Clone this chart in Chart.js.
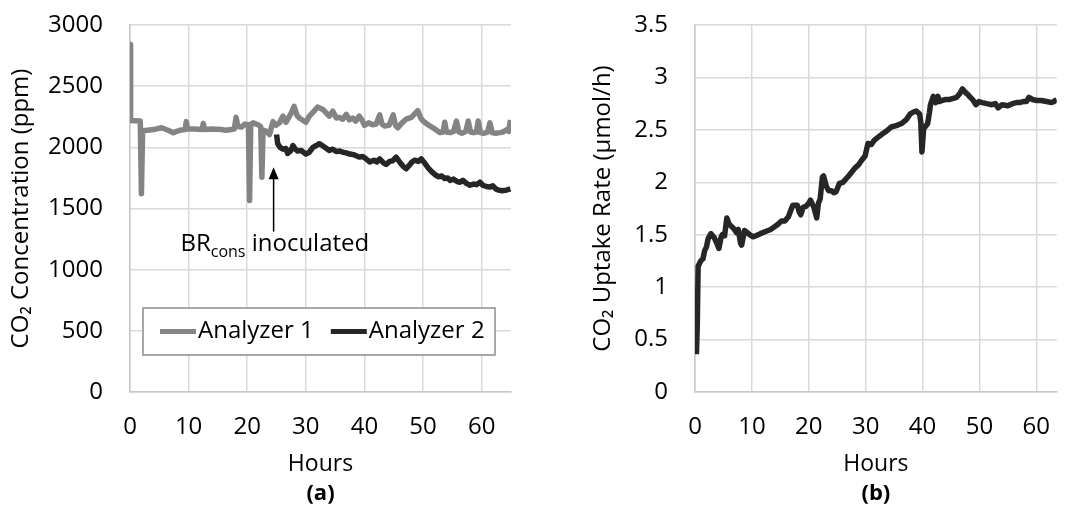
<!DOCTYPE html>
<html>
<head>
<meta charset="utf-8">
<script src="https://cdn.jsdelivr.net/npm/chart.js@4"></script>
<style>
  html, body { margin: 0; padding: 0; background: #fff; }
  .panel { position: absolute; top: 0; height: 506px; }
  #panelA { left: 0; width: 535px; }
  #panelB { left: 535px; width: 536px; }
</style>
</head>
<body>
<div class="panel" id="panelA"><canvas id="chartA"></canvas></div>
<div class="panel" id="panelB"><canvas id="chartB"></canvas></div>
<script>
// (a) CO2 concentration, Analyzer 1
const hoursA1 = [0, 0.1, 1.75, 1.95, 2.15, 3.0, 4.0, 5.4, 6.5, 7.4, 8.5, 9.4, 9.6, 9.8, 11, 12.3, 12.5, 12.7, 14, 15.5,
  16.4, 17.8, 18.1, 18.4, 19, 19.6, 20.2, 20.4, 20.6, 21, 21.8, 22.3, 22.5, 22.7, 23.3, 23.8, 24.4, 24.9, 25.5, 26.1,
  26.6, 27.5, 28, 28.5, 28.9, 30, 30.6, 31.2, 32, 32.9, 33.5, 34, 34.6, 35.2, 35.7, 36.3, 36.9, 37.4, 38, 38.5,
  39.1, 39.6, 40, 40.7, 41.4, 42, 42.6, 43, 43.4, 44.2, 44.9, 45.3, 45.7, 46.4, 47.1, 48, 49.1, 49.6, 50, 50.8,
  51.7, 52.9, 53.4, 53.7, 54, 54.6, 55.2, 55.7, 56.1, 56.6, 57.3, 57.7, 58.1, 58.6, 59.1, 59.4, 59.8, 60.3, 61, 61.4,
  61.8, 62.4, 63.1, 63.6, 64.3, 64.6, 64.9];
const co2A1 = [2840, 2220, 2215, 1620, 2135, 2140, 2145, 2160, 2140, 2120, 2140, 2145, 2210, 2150, 2150, 2145, 2195, 2145, 2150, 2145,
  2140, 2150, 2245, 2170, 2165, 2190, 2185, 1565, 2190, 2200, 2185, 2170, 1755, 2140, 2130, 2105, 2210, 2180, 2200, 2255,
  2205, 2280, 2335, 2260, 2240, 2205, 2255, 2285, 2330, 2310, 2280, 2255, 2295, 2240, 2245, 2230, 2270, 2225, 2240, 2215,
  2255, 2220, 2180, 2200, 2185, 2190, 2265, 2190, 2175, 2180, 2265, 2180, 2160, 2200, 2230, 2245, 2300, 2240, 2215, 2185,
  2160, 2120, 2125, 2205, 2125, 2120, 2130, 2215, 2125, 2115, 2130, 2215, 2125, 2120, 2125, 2215, 2120, 2115, 2125, 2200,
  2120, 2115, 2120, 2125, 2145, 2130, 2225];

// (a) CO2 concentration, Analyzer 2
const hoursA2 = [25.0, 25.2, 25.6, 26.1, 26.6, 26.9, 27.4, 27.8, 28.2, 28.6, 29.2, 30.0, 30.6, 31.2, 31.8, 32.3, 32.8, 33.4, 34, 34.6,
  35.2, 35.8, 36.3, 36.9, 37.5, 38.2, 39.1, 39.7, 40.3, 40.9, 41.6, 42.1, 42.6, 43.2, 43.7, 44.3, 44.8, 45.4, 46, 46.6,
  47.1, 47.6, 48.1, 48.6, 49.2, 49.7, 50.3, 50.9, 51.5, 52.1, 52.6, 53.2, 53.7, 54.2, 54.6, 55.2, 55.8, 56.3, 56.8, 57.4,
  58, 58.6, 59.1, 59.7, 60.2, 60.8, 61.4, 61.9, 62.4, 62.9, 63.5, 64.2, 64.9];
const co2A2 = [2105, 2030, 2000, 1985, 1990, 1950, 1970, 2015, 1985, 1970, 1975, 1945, 1960, 2000, 2015, 2030, 2015, 1995, 1975, 1985,
  1965, 1970, 1960, 1955, 1945, 1940, 1920, 1925, 1905, 1880, 1895, 1880, 1905, 1875, 1860, 1885, 1890, 1920, 1880, 1845,
  1825, 1850, 1880, 1895, 1885, 1905, 1870, 1830, 1800, 1775, 1760, 1765, 1745, 1750, 1730, 1740, 1720, 1715, 1730, 1705,
  1690, 1700, 1695, 1715, 1690, 1680, 1675, 1685, 1660, 1650, 1645, 1650, 1660];

// (b) CO2 uptake rate
const hoursB = [0.25, 0.4, 0.55, 1.0, 1.4, 1.7, 2.0, 2.3, 2.8, 3.4, 3.9, 4.2, 4.6, 4.8, 5.2, 5.6, 6.0, 6.2, 6.8, 7.3,
  7.6, 8.0, 8.2, 8.7, 9.2, 9.6, 10.2, 10.7, 11.5, 12.4, 13.3, 14.1, 14.6, 15.2, 15.8, 16.4, 16.9, 17.2, 18.0, 18.3,
  18.6, 19.0, 19.5, 20.0, 20.3, 20.9, 21.4, 21.7, 22.0, 22.4, 22.6, 23.1, 23.5, 24.0, 24.4, 24.8, 25.4, 26.0, 26.5, 27.0,
  27.6, 28.2, 28.8, 29.3, 29.9, 30.4, 31.0, 31.5, 32.2, 32.9, 33.7, 34.6, 35.4, 36.3, 37.2, 37.8, 38.4, 38.9, 39.5, 39.7,
  39.9, 40.2, 40.9, 41.2, 41.4, 41.9, 42.3, 42.7, 43.0, 43.4, 44.1, 44.8, 45.4, 46.0, 46.6, 47.0, 47.5, 47.9, 48.4, 48.8,
  49.4, 49.9, 50.5, 51.3, 52.2, 52.8, 53.3, 54.0, 55.0, 55.8, 56.5, 57.0, 57.7, 58.3, 58.7, 59.3, 60.1, 60.9, 61.8, 62.7,
  63.1, 63.6];
const uptakeB = [0.36, 0.64, 1.2, 1.25, 1.27, 1.35, 1.38, 1.46, 1.51, 1.47, 1.41, 1.37, 1.48, 1.5, 1.49, 1.66, 1.6, 1.59, 1.56, 1.52,
  1.55, 1.42, 1.4, 1.54, 1.52, 1.5, 1.48, 1.49, 1.51, 1.53, 1.55, 1.58, 1.6, 1.63, 1.63, 1.67, 1.74, 1.78, 1.78, 1.72,
  1.69, 1.76, 1.77, 1.8, 1.83, 1.76, 1.66, 1.8, 1.84, 2.05, 2.06, 1.96, 1.92, 1.92, 1.9, 1.91, 1.99, 2.0, 2.03, 2.06,
  2.1, 2.14, 2.17, 2.21, 2.25, 2.37, 2.36, 2.4, 2.43, 2.46, 2.49, 2.53, 2.54, 2.56, 2.6, 2.65, 2.67, 2.68, 2.65, 2.57,
  2.29, 2.51, 2.56, 2.66, 2.74, 2.82, 2.76, 2.82, 2.77, 2.78, 2.79, 2.79, 2.8, 2.81, 2.85, 2.89, 2.86, 2.84, 2.81, 2.79,
  2.74, 2.77, 2.76, 2.75, 2.74, 2.75, 2.71, 2.74, 2.73, 2.75, 2.76, 2.76, 2.77, 2.77, 2.81, 2.79, 2.78, 2.78, 2.77, 2.76,
  2.77, 2.79];

const seriesNames = ['Analyzer 1', 'Analyzer 2'];
const seriesColors = ['#848484', '#262626'];
const xTickValues = [0, 10, 20, 30, 40, 50, 60];
const inoculationHour = 24.5;
const FONT = "'Open Sans', sans-serif";

Chart.defaults.font.family = FONT;
Chart.defaults.font.size = 24;
Chart.defaults.color = '#000';

function toPoints(xs, ys) {
  return xs.map((x, i) => ({ x: x, y: ys[i] }));
}

// draws the panel letter, and for (a) the legend box and the inoculation arrow
const panelExtras = {
  id: 'panelExtras',
  afterDraw(chart, args, opts) {
    const { ctx, chartArea, scales } = chart;
    ctx.save();
    ctx.fillStyle = '#000';
    ctx.font = 'bold 22px ' + FONT;
    ctx.textAlign = 'center';
    ctx.textBaseline = 'middle';
    ctx.fillText(opts.letter, (chartArea.left + chartArea.right) / 2, 494);

    if (opts.arrow) {
      const ax = scales.x.getPixelForValue(opts.arrow.x);
      const top = scales.y.getPixelForValue(opts.arrow.from);
      const bottom = scales.y.getPixelForValue(opts.arrow.to);
      ctx.strokeStyle = '#000';
      ctx.lineWidth = 1.5;
      ctx.beginPath();
      ctx.moveTo(ax, bottom);
      ctx.lineTo(ax, top + 8);
      ctx.stroke();
      ctx.beginPath();
      ctx.moveTo(ax, top);
      ctx.lineTo(ax - 5, top + 12);
      ctx.lineTo(ax + 5, top + 12);
      ctx.closePath();
      ctx.fill();

      // BR_cons inoculated
      let tx = scales.x.getPixelForValue(opts.arrow.textX);
      const ty = scales.y.getPixelForValue(opts.arrow.textY);
      ctx.textAlign = 'left';
      ctx.textBaseline = 'alphabetic';
      ctx.font = '24px ' + FONT;
      ctx.fillText('BR', tx, ty);
      tx += ctx.measureText('BR').width;
      ctx.font = '16px ' + FONT;
      ctx.fillText('cons', tx, ty + 6);
      tx += ctx.measureText('cons').width;
      ctx.font = '24px ' + FONT;
      ctx.fillText(' inoculated', tx, ty);
    }

    if (opts.legend) {
      const bx = chartArea.left + 13, by = 308, bw = 352, bh = 47;
      ctx.fillStyle = '#fff';
      ctx.fillRect(bx, by, bw, bh);
      ctx.strokeStyle = '#8c8c8c';
      ctx.lineWidth = 1.5;
      ctx.strokeRect(bx, by, bw, bh);
      ctx.font = '24px ' + FONT;
      ctx.textAlign = 'left';
      ctx.textBaseline = 'middle';
      let lx = bx + 17;
      const ly = by + bh / 2;
      chart.data.datasets.forEach(ds => {
        ctx.strokeStyle = ds.borderColor;
        ctx.lineWidth = 5;
        ctx.beginPath();
        ctx.moveTo(lx, ly);
        ctx.lineTo(lx + 36, ly);
        ctx.stroke();
        ctx.fillStyle = '#000';
        ctx.fillText(ds.label, lx + 38, ly);
        lx += 38 + ctx.measureText(ds.label).width + 17;
      });
    }
    ctx.restore();
  }
};

function makeScales(xMax, yMax, yStep, yWidth, yTitle, yTitlePad) {
  return {
    x: {
      type: 'linear', min: 0, max: xMax,
      afterBuildTicks: s => { s.ticks = xTickValues.map(v => ({ value: v })); },
      afterFit: s => { s.height = 114; },
      grid: { color: '#d9d9d9', lineWidth: 1.5, drawTicks: false },
      border: { color: '#c8c8c8', width: 1.5 },
      ticks: { padding: 21, maxRotation: 0, autoSkip: false, callback: v => String(v) },
      title: { display: true, text: 'Hours', font: { size: 23 }, padding: { top: 0, bottom: 28 } }
    },
    y: {
      min: 0, max: yMax,
      afterFit: s => { s.width = yWidth; s.paddingTop = 0; s.paddingBottom = 0; },
      grid: { color: '#d9d9d9', lineWidth: 1.5, drawTicks: false },
      border: { color: '#c8c8c8', width: 1.5 },
      ticks: { stepSize: yStep, padding: 27, callback: v => String(v) },
      title: { display: true, text: yTitle, padding: { top: yTitlePad, bottom: 0 } }
    }
  };
}

new Chart(document.getElementById('chartA'), {
  type: 'line',
  data: {
    datasets: [
      { label: seriesNames[0], data: toPoints(hoursA1, co2A1), borderColor: seriesColors[0], order: 1 },
      { label: seriesNames[1], data: toPoints(hoursA2, co2A2), borderColor: seriesColors[1], order: 0 }
    ]
  },
  options: {
    responsive: true, maintainAspectRatio: false, animation: false,
    layout: { padding: { top: 25, right: 24, left: 0, bottom: 0 } },
    elements: { point: { radius: 0 }, line: { borderWidth: 5.5, tension: 0, borderJoinStyle: 'round' } },
    scales: makeScales(65, 3000, 500, 130, 'CO\u2082 Concentration (ppm)', 7),
    plugins: {
      legend: { display: false }, tooltip: { enabled: false },
      panelExtras: {
        letter: '(a)', legend: true,
        arrow: { x: inoculationHour, from: 1838, to: 1311, textX: 8.6, textY: 1150 }
      }
    }
  },
  plugins: [panelExtras]
});

new Chart(document.getElementById('chartB'), {
  type: 'line',
  data: {
    datasets: [
      { label: 'Uptake rate', data: toPoints(hoursB, uptakeB), borderColor: seriesColors[1] }
    ]
  },
  options: {
    responsive: true, maintainAspectRatio: false, animation: false,
    layout: { padding: { top: 25, right: 0, left: 0, bottom: 0 } },
    elements: { point: { radius: 0 }, line: { borderWidth: 5.5, tension: 0, borderJoinStyle: 'round' } },
    scales: makeScales(63.6, 3.5, 0.5, 160, 'CO\u2082 Uptake Rate (\u00b5mol/h)', 54),
    plugins: {
      legend: { display: false }, tooltip: { enabled: false },
      panelExtras: { letter: '(b)' }
    }
  },
  plugins: [panelExtras]
});
</script>
</body>
</html>
